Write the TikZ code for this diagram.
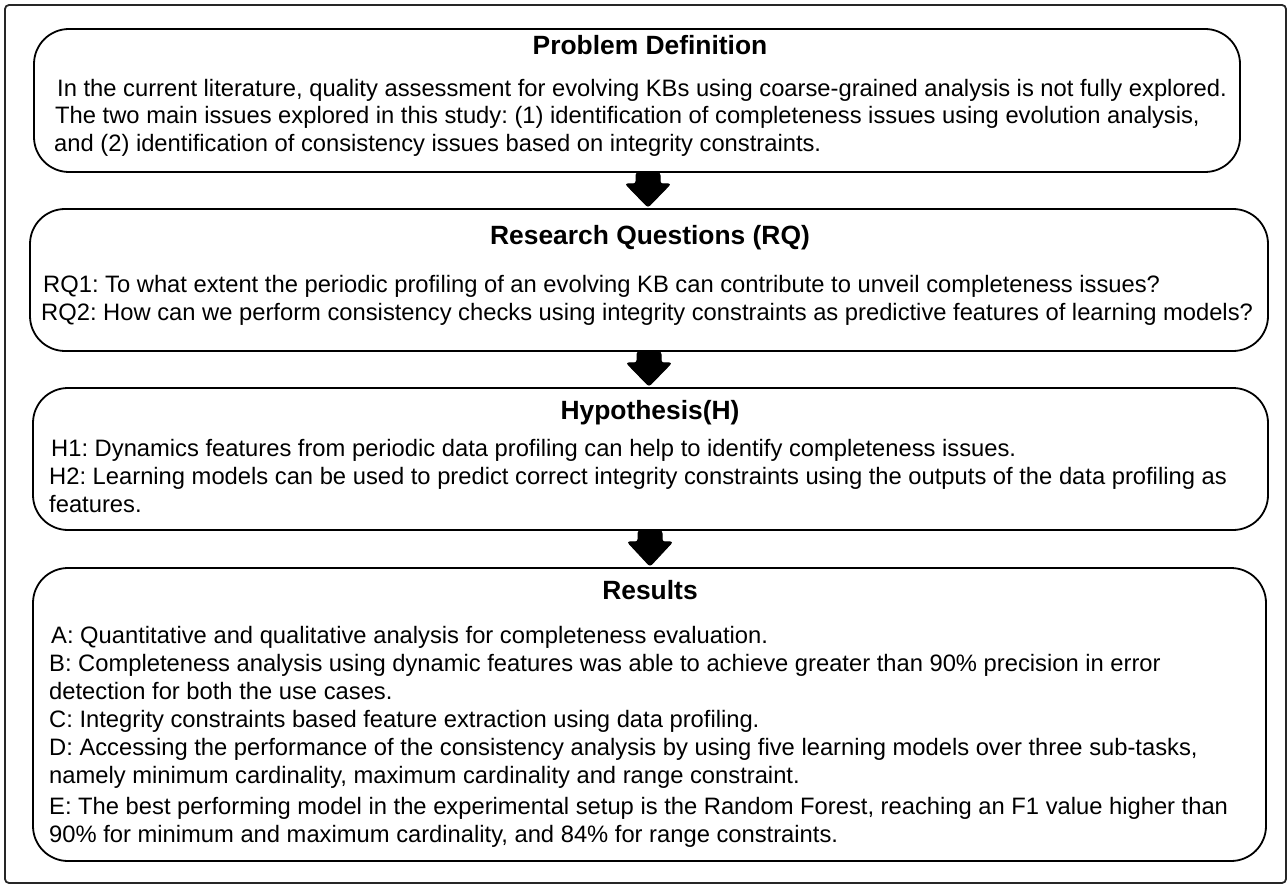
\documentclass[tikz,border=0pt]{standalone}
\usepackage{fontspec}
\setmainfont{Liberation Sans}
\usetikzlibrary{calc}
\frenchspacing
\begin{document}
\begin{tikzpicture}[x=1pt,y=-1pt,
  box/.style={draw=black, line width=1.8pt, rounded corners=35pt, inner sep=0pt, fill=white},
  ttl/.style={font=\fontsize{26.4}{30}\selectfont\bfseries, anchor=base, inner sep=0pt},
  ln/.style={font=\fontsize{23.75}{28}\selectfont, anchor=base west, inner sep=0pt},
  barrow/.style={fill=black, draw=black, line width=1pt, rounded corners=2.5pt}]
\useasboundingbox (0,0) rectangle (1288,885);
\draw[line width=1.8pt, draw=black!85, rounded corners=4pt] (5,5) rectangle (1286,883);
\node[box, minimum width=1206pt, minimum height=143pt] (b1) at (637,100.5) {};
\node[box, minimum width=1238pt, minimum height=142pt] (b2) at (649,280) {};
\node[box, minimum width=1235pt, minimum height=142pt] (b3) at (650.5,459) {};
\node[box, minimum width=1233pt, minimum height=293pt] (b4) at (649.5,714.5) {};
% titles
\node[ttl] (t1) at (650,55) {Problem Definition};
\node[ttl] (t2) at (650,245) {Research Questions (RQ)};
\node[ttl] (t3) at (650,419) {Hypothesis(H)};
\node[ttl] (t4) at (650,599) {Results};
% box 1
\node[ln] (p1) at (57,96.5) {In the current literature, quality assessment for evolving KBs using coarse-grained analysis is not fully explored.};
\node[ln] (p2) at (55,124) {The two main issues explored in this study: (1) identification of completeness issues using evolution analysis,};
\node[ln] (p3) at (54,152) {and (2) identification of consistency issues based on integrity constraints.};
% box 2
\node[ln] (q1) at (43,292.5) {RQ1: To what extent the periodic profiling of an evolving KB can contribute to unveil completeness issues?};
\node[ln] (q2) at (41,320.5) {RQ2: How can we perform consistency checks using integrity constraints as predictive features of learning models?};
% box 3
\node[ln] (h1) at (51,456.5) {H1: Dynamics features from periodic data profiling can help to identify completeness issues.};
\node[ln] (h2) at (49,484.5) {H2: Learning models can be used to predict correct integrity constraints using the outputs of the data profiling as};
\node[ln] (h3) at (49,512.5) {features.};
% box 4
\node[ln] (r1) at (51,643.5) {A: Quantitative and qualitative analysis for completeness evaluation.};
\node[ln] (r2) at (49,671.5) {B: Completeness analysis using dynamic features was able to achieve greater than 90\% precision in error};
\node[ln] (r3) at (49,699.5) {detection for both the use cases.};
\node[ln] (r4) at (49,727.5) {C: Integrity constraints based feature extraction using data profiling.};
\node[ln] (r5) at (49,755.5) {D: Accessing the performance of the consistency analysis by using five learning models over three sub-tasks,};
\node[ln] (r6) at (49,783.5) {namely minimum cardinality, maximum cardinality and range constraint.};
\node[ln] (r7) at (49,814) {E: The best performing model in the experimental setup is the Random Forest, reaching an F1 value higher than};
\node[ln] (r8) at (49,842) {90\% for minimum and maximum cardinality, and 84\% for range constraints.};
% arrows
\coordinate (ax1) at (648,0);
\coordinate (ax2) at (649,0);
\coordinate (ax3) at (650,0);
\foreach \a/\b/\c in {b1/b2/ax1, b2/b3/ax2, b3/b4/ax3}{
  \coordinate (s) at (\c |- \a.south);
  \coordinate (e) at (\c |- \b.north);
  \fill[barrow]
    ($(s)+(-12,0)$) -- ($(s)+(-12,11)$) -- ($(s)+(-22.5,11)$) -- ($(e)+(0,-1)$) -- ($(s)+(22.5,11)$) -- ($(s)+(12,11)$) -- ($(s)+(12,0)$) -- cycle;
}
\end{tikzpicture}
\end{document}
